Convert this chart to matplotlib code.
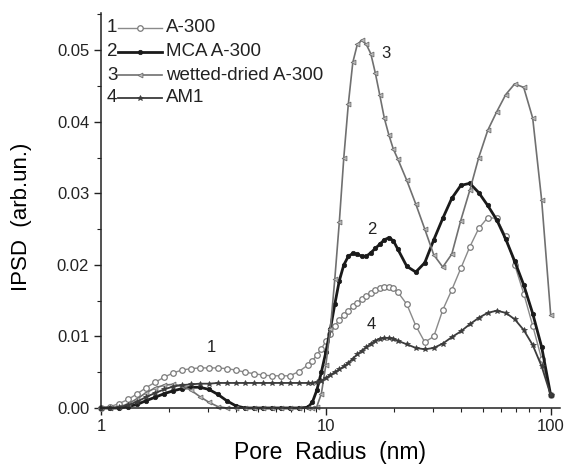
import matplotlib
matplotlib.use("Agg")
import matplotlib.pyplot as plt
from matplotlib.ticker import FixedLocator, FuncFormatter, MultipleLocator, NullFormatter

plt.rcParams['font.family'] = ['Liberation Sans', 'DejaVu Sans']

radius = [1.00, 1.10, 1.20, 1.32, 1.45, 1.58, 1.74, 1.91, 2.09, 2.29, 2.51, 2.75, 3.02, 3.31,
          3.63, 3.98, 4.37, 4.79, 5.25, 5.75, 6.31, 6.92, 7.59, 8.32, 8.71, 9.12, 9.55, 10.0,
          10.47, 10.96, 11.48, 12.02, 12.59, 13.18, 13.80, 14.45, 15.14, 15.85, 16.60, 17.38,
          18.20, 19.05, 19.95, 20.89, 22.91, 25.12, 27.54, 30.20, 33.11, 36.31, 39.81, 43.65,
          47.86, 52.48, 57.54, 63.10, 69.18, 75.86, 83.18, 91.20, 100.0]

a300 = [0, 0.0002, 0.0006, 0.0012, 0.0020, 0.0028, 0.0036, 0.0043, 0.0049, 0.0053, 0.0055,
        0.0056, 0.0056, 0.0056, 0.0055, 0.0053, 0.0050, 0.0048, 0.0046, 0.0045, 0.0045, 0.0045,
        0.0051, 0.0060, 0.0066, 0.0074, 0.0083, 0.0093, 0.0104, 0.0115, 0.0123, 0.0130, 0.0136,
        0.0142, 0.0147, 0.0152, 0.0156, 0.0161, 0.0165, 0.0168, 0.0169, 0.0169, 0.0167, 0.0162,
        0.0145, 0.0115, 0.0092, 0.0100, 0.0137, 0.0165, 0.0195, 0.0225, 0.0251, 0.0266, 0.0265,
        0.0240, 0.0200, 0.0160, 0.0115, 0.0068, 0.0018]

mca_a300 = [0, 0, 0, 0.0002, 0.0005, 0.0010, 0.0015, 0.0020, 0.0024, 0.0027, 0.0029, 0.0029,
            0.0026, 0.0019, 0.0010, 0.0003, 0, 0, 0, 0, 0, 0, 0, 0.0001, 0.0008, 0.0025, 0.0050,
            0.0078, 0.0110, 0.0145, 0.0178, 0.0200, 0.0212, 0.0216, 0.0215, 0.0212, 0.0212,
            0.0217, 0.0223, 0.0229, 0.0235, 0.0238, 0.0234, 0.0222, 0.0198, 0.0190, 0.0203,
            0.0235, 0.0265, 0.0293, 0.0311, 0.0314, 0.0301, 0.0283, 0.0263, 0.0236, 0.0205,
            0.0172, 0.0132, 0.0085, 0.0018]

wetted_dried = [0, 0, 0.0001, 0.0006, 0.0013, 0.0021, 0.0028, 0.0032, 0.0033, 0.0031, 0.0025,
                0.0016, 0.0008, 0.0002, 0, 0, 0, 0, 0, 0, 0, 0, 0, 0, 0, 0.0002, 0.0020, 0.0060,
                0.0110, 0.0180, 0.0260, 0.0350, 0.0425, 0.0483, 0.0508, 0.0514, 0.0508, 0.0495,
                0.0468, 0.0437, 0.0405, 0.0382, 0.0362, 0.0348, 0.0318, 0.0285, 0.0250, 0.0214,
                0.0197, 0.0215, 0.0262, 0.0304, 0.0350, 0.0388, 0.0414, 0.0438, 0.0453, 0.0448,
                0.0405, 0.0290, 0.0130]

am1 = [0, 0, 0.0001, 0.0004, 0.0009, 0.0015, 0.0021, 0.0026, 0.0030, 0.0032, 0.0033, 0.0034,
       0.0034, 0.0035, 0.0035, 0.0035, 0.0035, 0.0035, 0.0035, 0.0035, 0.0035, 0.0035, 0.0035,
       0.0035, 0.0035, 0.0036, 0.0038, 0.0042, 0.0046, 0.0050, 0.0054, 0.0058, 0.0063, 0.0069,
       0.0075, 0.0080, 0.0085, 0.0090, 0.0094, 0.0097, 0.0098, 0.0098, 0.0097, 0.0094, 0.0089,
       0.0084, 0.0082, 0.0084, 0.0090, 0.0099, 0.0107, 0.0117, 0.0126, 0.0133, 0.0136, 0.0133,
       0.0124, 0.0109, 0.0088, 0.0058, 0.0018]

series_labels = ["A-300", "MCA A-300", "wetted-dried A-300", "AM1"]
series_numbers = ["1", "2", "3", "4"]
curve_tags = [("1", 3.11, 0.0084), ("2", 16.0, 0.0250), ("3", 18.5, 0.0496), ("4", 15.85, 0.0117)]
x_ticks = [1, 10, 100]
y_ticks = [0.00, 0.01, 0.02, 0.03, 0.04, 0.05]

W, H = 566, 471
fig = plt.figure(figsize=(W / 100, H / 100), dpi=100)
fig.patch.set_facecolor('white')
ax = fig.add_axes([101 / W, 1 - 408 / H, (560 - 101) / W, (408 - 13) / H])

styles = [
    dict(color='#8a8a8a', lw=1.0, marker='o', ms=4.0, mfc='white', mec='#7a7a7a', mew=0.9),
    dict(color='#1a1a1a', lw=2.0, marker='o', ms=3.2, mfc='#1a1a1a', mec='#1a1a1a', mew=0.5),
    dict(color='#707070', lw=1.2, marker='<', ms=3.5, mfc='#bbbbbb', mec='#707070', mew=0.6),
    dict(color='#3c3c3c', lw=1.3, marker='*', ms=3.8, mfc='#3c3c3c', mec='#3c3c3c', mew=0.5),
]
data = [a300, mca_a300, wetted_dried, am1]
for vals, st in zip(data, styles):
    ax.plot(radius, vals, **st, clip_on=False)

ax.set_xscale('log')
ax.set_xlim(1, 110)
ax.set_ylim(0, 0.0552)
for s in ['top', 'right']:
    ax.spines[s].set_visible(False)
for s in ['left', 'bottom']:
    ax.spines[s].set_linewidth(1.1)
    ax.spines[s].set_color('#222222')

ax.xaxis.set_major_locator(FixedLocator(x_ticks))
ax.xaxis.set_major_formatter(FuncFormatter(lambda v, p: f"{v:g}"))
ax.xaxis.set_minor_locator(FixedLocator([2, 3, 4, 5, 6, 7, 8, 9, 20, 30, 40, 50, 60, 70, 80, 90]))
ax.xaxis.set_minor_formatter(NullFormatter())
ax.yaxis.set_major_locator(FixedLocator(y_ticks))
ax.yaxis.set_major_formatter(FuncFormatter(lambda v, p: f"{v:.2f}"))
ax.yaxis.set_minor_locator(MultipleLocator(0.005))
ax.tick_params(which='major', direction='out', length=5, width=1.0, labelsize=12, colors='#222222')
ax.tick_params(which='minor', direction='out', length=3, width=0.8, colors='#222222')
ax.tick_params(axis='x', pad=3)

ax.set_xlabel("Pore  Radius  (nm)", fontsize=16.5, labelpad=5)
ax.set_ylabel("IPSD  (arb.un.)", fontsize=16)
ax.yaxis.set_label_coords(-0.15, 0.485)

for t, xv, yv in curve_tags:
    ax.text(xv, yv, t, fontsize=12, ha='center', va='center', color='#222222')

# legend drawn manually (number, line with marker, label)
row_y = [28, 52, 75, 98]
for num, lab, st, py in zip(series_numbers, series_labels, styles, row_y):
    yf = 1 - py / H
    fig.text(107 / W, yf, num, fontsize=13.5, ha='left', va='center', color='#222222')
    line_kw = dict(st)
    for k in ('marker', 'ms', 'mfc', 'mec', 'mew'):
        line_kw.pop(k)
    fig.add_artist(plt.Line2D([118 / W, 162 / W], [yf, yf], transform=fig.transFigure, **line_kw))
    fig.add_artist(plt.Line2D([140 / W], [yf], transform=fig.transFigure, linestyle='none',
                              marker=st['marker'], ms=st['ms'], mfc=st['mfc'], mec=st['mec'], mew=st['mew']))
    fig.text(166 / W, yf, lab, fontsize=13.5, ha='left', va='center', color='#222222')

fig.savefig("out.png", dpi=100, facecolor='white')
